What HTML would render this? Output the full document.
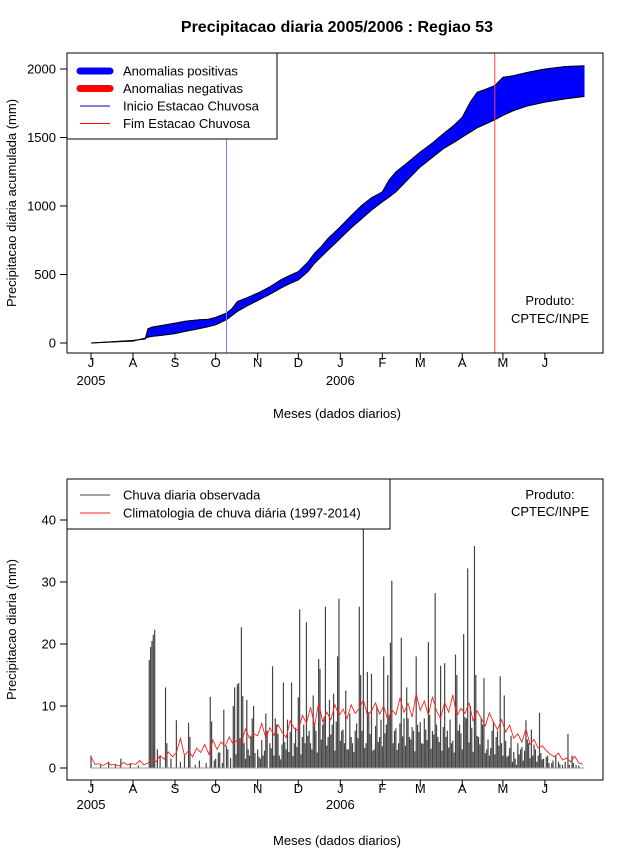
<!DOCTYPE html>
<html><head><meta charset="utf-8">
<style>
html,body{margin:0;padding:0;background:#fff;}
svg{display:block;font-family:"Liberation Sans",sans-serif;}
</style></head>
<body>
<svg id="chart" width="640" height="850" xmlns="http://www.w3.org/2000/svg">
<rect width="640" height="850" fill="#fff"/>
<text x="337" y="32" text-anchor="middle" font-size="16" font-weight="bold">Precipitacao diaria 2005/2006 : Regiao 53</text>
<g id="top"></g>
<g id="bot"></g>
</svg>
<script>
// ---------- data ----------
const monthLabels = ["J","A","S","O","N","D","J","F","M","A","M","J"];
const monthStartDays = [0,31,62,92,123,153,184,215,243,274,304,335];
const yearLabels = ["2005","2006"];
const yearDays = [0,184];
const topTicks = [0,500,1000,1500,2000];
const botTicks = [0,10,20,30,40];
// accumulated (top)
const accDays = [0,31,40,42,45,52,62,70,80,86,92,100,104,108,115,123,132,140,146,153,160,165,170,175,180,184,192,200,207,215,220,225,234,243,252,260,268,274,280,285,292,298,304,312,322,335,350,364];
const accObs  = [0,19,29,104,116,128,145,160,170,172,187,218,250,303,330,364,410,460,490,521,590,655,705,764,810,848,930,1006,1060,1103,1190,1248,1320,1394,1460,1527,1590,1648,1760,1830,1855,1879,1939,1952,1975,2000,2018,2024];
const accClim = [0,14,36,42,48,56,68,86,105,118,133,170,200,230,270,310,355,400,430,460,520,582,630,679,725,764,840,909,970,1030,1065,1103,1195,1285,1355,1418,1465,1503,1540,1571,1602,1629,1661,1697,1730,1758,1782,1799];
const rainStartDay = 100;
const rainEndDay = 298;
// daily observed: larger events (day index, mm)
const obsDays = [0,7,13,18,22,29,35,43,44,45,46,47,49,51,55,56,59,63,66,69,72,73,77,80,85,88,89,92,95,98,101,105,106,108,109,111,112,113,115,117,119,120,123,125,127,129,132,134,136,137,139,142,144,145,148,150,153,154,156,159,161,162,164,166,168,169,171,173,175,176,178,179,182,183,185,187,188,190,193,195,198,199,201,203,204,207,209,211,213,216,218,219,221,222,224,227,229,231,233,235,238,240,241,244,246,249,252,254,256,258,261,263,266,269,270,272,275,277,278,280,283,284,286,288,290,292,294,297,300,302,303,305,308,311,314,317,321,323,325,328,330,331,334,337,340,345,348,352,355,358];
const obsVals = [2.0,0.5,1.0,0.6,1.5,0.8,0.4,17.4,19.5,20.5,21.5,22.3,3,2,13,4,1.5,7.7,1,2,7.3,5,0.5,1.2,0.8,11.5,7.5,1.5,2.5,9.4,3,10,13,13.5,13.7,22.7,11.6,4,11,2,8,10,3,1.5,2,8.8,4,16.4,8,7,2,13.8,3,7.8,13.8,4,11.4,25.6,5,23.5,6,4,11.7,6,17.6,16,7,26,5,11,7,12,18,27.3,6,4,12.5,3,4,6,26,15,46,4,15.5,15.2,3,10,5,18,7,15,20.2,30.2,6,4,21,8,13,5,6,18,7,4,8,20.3,6,28.2,5,16.5,16.9,6,4,18.3,15,7,21.6,8,32.2,10,35.8,15,5,8,14.5,3,2,7.5,6,14.8,4,11.7,2,1,0.5,3,7.7,4,6.2,3,2,8.9,1.5,2,0.8,1,0.5,5.5,2,0.5];
// daily observed: small showers
const smallDays = [91,94,97,100,103,107,110,114,116,118,121,124,126,128,130,133,135,138,140,141,143,146,147,149,151,152,155,157,158,160,163,165,167,170,172,174,177,180,181,184,186,189,191,192,194,196,197,200,202,205,206,208,210,212,214,215,217,220,223,225,226,228,230,232,234,236,237,239,242,243,245,247,248,250,251,253,255,257,259,260,262,264,265,267,268,271,273,274,276,279,281,282,285,287,289,291,293,295,296,298,299,301,304,306,307,309,310,312,313,315,316,318,319,320,322,324,326,327,329,332,333,336,338,341,343,346,350,353,356,360];
const smallVals = [1.2,2.5,0.8,3.5,1.6,2.2,4.8,1.5,3.0,5.2,2.4,1.8,4.5,2.8,6.0,3.2,2.0,5.5,1.4,3.8,4.2,2.6,5.8,1.9,6.5,3.4,2.2,7.0,4.0,5.2,3.0,6.8,2.5,4.6,8.2,3.6,5.4,2.8,7.5,4.4,6.2,3.0,8.8,5.0,2.6,7.2,4.8,6.0,3.2,9.0,5.5,2.8,6.8,4.2,7.8,3.5,5.6,8.5,4.0,6.4,2.9,7.2,5.1,3.6,8.0,4.6,6.6,2.7,5.8,7.4,3.9,6.2,4.5,8.6,3.1,5.4,7.0,4.2,2.8,6.6,5.0,3.3,7.8,4.4,2.5,6.0,5.6,3.0,8.2,4.1,6.5,2.6,5.2,3.8,7.0,2.4,4.6,3.2,6.0,2.2,5.0,3.6,2.0,4.4,1.8,3.2,5.2,2.6,1.5,4.0,2.2,3.4,1.2,2.8,4.6,1.6,2.0,3.8,1.0,2.4,1.4,1.8,0.8,1.2,2.0,0.6,1.0,0.5,0.8,0.4];
// climatology, one value every 3 days
const climStep = 3;
const climVals = [1.8,0.6,0.7,0.4,0.8,0.5,0.6,0.3,0.9,0.5,0.7,
0.6,1.2,0.5,0.8,1.5,1.0,2.0,1.4,2.6,1.8,
2.5,4.8,2.0,2.8,1.8,3.2,2.5,3.8,2.2,4.5,
3.0,4.2,3.5,5.0,3.8,4.6,4.0,6.3,4.8,5.5,
5.2,7.2,4.8,6.5,5.3,7.0,5.8,4.9,7.6,6.4,
6.0,8.5,7.2,9.8,6.8,10.5,7.5,9.0,7.8,10.2,8.4,
9.5,8.0,10.2,8.8,9.6,11.0,8.5,9.2,10.5,8.7,
10.0,7.8,9.4,8.6,11.2,9.0,10.4,8.2,12.0,9.3,
10.8,8.5,11.5,9.2,8.0,10.6,9.0,11.8,8.4,9.6,
8.8,10.5,7.6,9.2,8.0,6.8,8.9,7.4,6.2,7.8,
5.8,6.9,4.8,5.5,4.2,6.3,3.8,4.6,3.2,3.6,
2.8,2.2,1.8,2.4,1.3,1.6,1.0,1.9,0.8,0.6];

// ---------- helpers ----------
const NS="http://www.w3.org/2000/svg";
function mk(parent,tag,attrs,txt){const e=document.createElementNS(NS,tag);for(const k in attrs)e.setAttribute(k,attrs[k]);if(txt!==undefined)e.textContent=txt;parent.appendChild(e);return e;}
const xDay = d => 91 + d*1.355;
const yTop = v => 343 - v*0.137;
const yBot = v => 768 - v*6.2;
const FS=13;

function axes(g, top, bottom, yFn, ticks, labY, yearY, titleY, ytitle, ytitleX){
  const box=mk(g,'rect',{x:67,y:top,width:536,height:bottom-top,fill:'none',stroke:'#000','stroke-width':1});
  
  
  monthStartDays.forEach((d,i)=>{
    const x=xDay(d);
    const t=mk(g,'line',{x1:x,x2:x,y1:bottom,y2:bottom+7,stroke:'#000'});
    
    
    const l=mk(g,'text',{x:x,y:labY,'text-anchor':'middle','font-size':FS},monthLabels[i]);
    
    
  });
  yearDays.forEach((d,i)=>{
    const l=mk(g,'text',{x:xDay(d),y:yearY,'text-anchor':'middle','font-size':FS},yearLabels[i]);
    
    
  });
  ticks.forEach(v=>{
    const y=yFn(v);
    const t=mk(g,'line',{x1:60,x2:67,y1:y,y2:y,stroke:'#000'});
    
    
    const l=mk(g,'text',{x:56,y:y+4.5,'text-anchor':'end','font-size':FS},String(v));
    
    
  });
  const xt=mk(g,'text',{x:337,y:titleY,'text-anchor':'middle','font-size':FS},'Meses (dados diarios)');
  
  
  const cy=(top+bottom)/2;
  const yt=mk(g,'text',{x:ytitleX,y:cy,'text-anchor':'middle','font-size':FS,transform:`rotate(-90 ${ytitleX} ${cy})`},ytitle);
  
  
}

// ---------- top panel ----------
const gt=document.getElementById('top');
for(let i=0;i<accDays.length-1;i++){
  const pos = (accObs[i]+accObs[i+1]) >= (accClim[i]+accClim[i+1]);
  const pts=[[xDay(accDays[i]),yTop(accObs[i])],[xDay(accDays[i+1]),yTop(accObs[i+1])],[xDay(accDays[i+1]),yTop(accClim[i+1])],[xDay(accDays[i]),yTop(accClim[i])]];
  const p=mk(gt,'polygon',{points:pts.map(q=>q.join(',')).join(' '),fill:pos?'#0000ff':'#ff0000',stroke:pos?'#0000ff':'#ff0000','stroke-width':0.6});
  
  
}
const obsLine=mk(gt,'polyline',{points:accDays.map((d,i)=>xDay(d)+','+yTop(accObs[i])).join(' '),fill:'none',stroke:'#000','stroke-width':1});


const climLine=mk(gt,'polyline',{points:accDays.map((d,i)=>xDay(d)+','+yTop(accClim[i])).join(' '),fill:'none',stroke:'#000','stroke-width':1});


const vs=mk(gt,'line',{x1:xDay(rainStartDay),x2:xDay(rainStartDay),y1:53,y2:353,stroke:'#7b7bff','stroke-width':1});


const ve=mk(gt,'line',{x1:xDay(rainEndDay),x2:xDay(rainEndDay),y1:53,y2:353,stroke:'#ff4040','stroke-width':1});


axes(gt,53,353,yTop,topTicks,367,385,418,'Precipitacao diaria acumulada (mm)',16);
const lg=mk(gt,'g',{});


mk(lg,'rect',{x:67,y:53,width:210,height:86,fill:'#fff',stroke:'#000'});
const legItems=[['Anomalias positivas','#0000ff',7],['Anomalias negativas','#ff0000',7],['Inicio Estacao Chuvosa','#0000cc',1],['Fim Estacao Chuvosa','#ff0000',1]];
legItems.forEach((it,i)=>{
  const y=71+i*17.5;
  const e=mk(lg,'g',{});
  
  
  mk(e,'line',{x1:80,x2:110,y1:y,y2:y,stroke:it[1],'stroke-width':it[2],'stroke-linecap':it[2]>1?'round':'butt'});
  mk(e,'text',{x:123,y:y+4.5,'font-size':FS},it[0]);
});
const pr1=mk(gt,'text',{x:550,y:305,'text-anchor':'middle','font-size':FS},'Produto:');


const pr2=mk(gt,'text',{x:550,y:323,'text-anchor':'middle','font-size':FS},'CPTEC/INPE');



// ---------- bottom panel ----------
const gb=document.getElementById('bot');
const clip=mk(gb,'clipPath',{id:'bc'});
mk(clip,'rect',{x:67,y:479,width:536,height:301});
const bars=mk(gb,'g',{'clip-path':'url(#bc)'});


function drawBars(days,vals){
  days.forEach((d,i)=>{
    const x=xDay(d);
    const b=mk(bars,'line',{x1:x,x2:x,y1:yBot(0),y2:yBot(vals[i]),stroke:'#444','stroke-width':1.2});
    
    
  });
}
drawBars(obsDays,obsVals);
drawBars(smallDays,smallVals);
const cl=mk(gb,'polyline',{points:climVals.map((v,i)=>xDay(i*climStep)+','+yBot(v)).join(' '),fill:'none',stroke:'#ff2020','stroke-width':0.9});


const zl=mk(gb,'line',{x1:xDay(0),x2:xDay(364),y1:yBot(0),y2:yBot(0),stroke:'#999','stroke-width':1});


axes(gb,479,780,yBot,botTicks,793,809,845,'Precipitacao diaria (mm)',16);
const lg2=mk(gb,'g',{});


mk(lg2,'rect',{x:67,y:479,width:323,height:50,fill:'#fff',stroke:'#000'});
[['Chuva diaria observada','#444'],['Climatologia de chuva diária (1997-2014)','#ff2020']].forEach((it,i)=>{
  const y=495+i*18;
  const e=mk(lg2,'g',{});
  
  
  mk(e,'line',{x1:80,x2:110,y1:y,y2:y,stroke:it[1],'stroke-width':1});
  mk(e,'text',{x:123,y:y+4.5,'font-size':FS},it[0]);
});
const pr3=mk(gb,'text',{x:550,y:499,'text-anchor':'middle','font-size':FS},'Produto:');


const pr4=mk(gb,'text',{x:550,y:516,'text-anchor':'middle','font-size':FS},'CPTEC/INPE');


</script>
</body></html>
